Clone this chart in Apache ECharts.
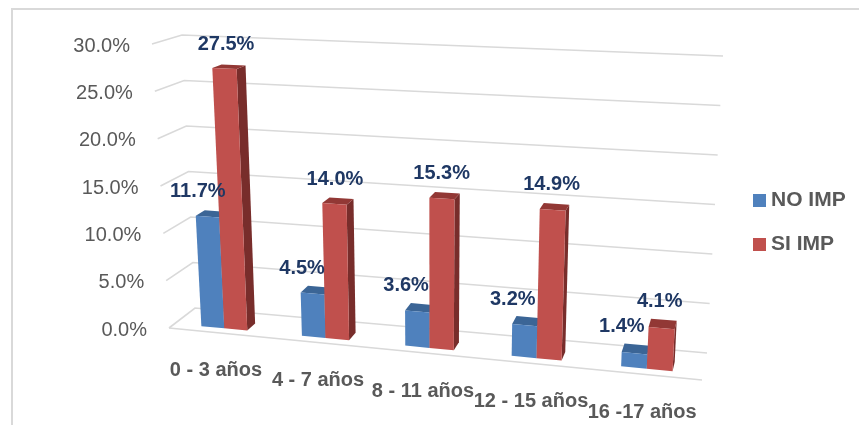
<!DOCTYPE html>
<html>
<head>
<meta charset="utf-8">
<script src="https://cdn.jsdelivr.net/npm/echarts@6/dist/echarts.min.js"></script>
<style>
html,body{margin:0;padding:0;background:#fff;}
#chart{width:859px;height:425px;}
</style>
</head>
<body>
<div id="chart"></div>
<script>
// ---- data ----
const categories = ['0 - 3 años', '4 - 7 años', '8 - 11 años', '12 - 15 años', '16 -17 años'];
const noImp = [11.7, 4.5, 3.6, 3.2, 1.4];
const siImp = [27.5, 14.0, 15.3, 14.9, 4.1];
const yTicks = [0, 5, 10, 15, 20, 25, 30];
const tickLabels = ['0.0%', '5.0%', '10.0%', '15.0%', '20.0%', '25.0%', '30.0%'];
const seriesNames = ['NO IMP', 'SI IMP'];

// ---- 3D frame (layout of the perspective box) ----
const FRAME = {
  F: { L0: [169, 328], LT: [152, 44], R0: [702, 380], RT: [719, 68] },
  B: { L0: [195, 308], LT: [182, 35], R0: [707, 353], RT: [723, 56] }
};
const PERSP = 1.074;
const Z0 = 0.22, Z1 = 0.56;
const FONT = '"Liberation Sans", Arial, sans-serif';

function lerp(a, b, t) { return a + (b - a) * t; }
function plane(pl, s, v) {
  const L = [lerp(pl.L0[0], pl.LT[0], v), lerp(pl.L0[1], pl.LT[1], v)];
  const R = [lerp(pl.R0[0], pl.RT[0], v), lerp(pl.R0[1], pl.RT[1], v)];
  return [lerp(L[0], R[0], s), lerp(L[1], R[1], s)];
}
function proj(u, v, z) {
  const s = u / (u + PERSP * (1 - u));
  const f = plane(FRAME.F, s, v), b = plane(FRAME.B, s, v);
  return [lerp(f[0], b[0], z), lerp(f[1], b[1], z)];
}
function toUV(rect, pt) {
  return [(pt[0] - rect.x) / rect.width, (rect.y + rect.height - pt[1]) / rect.height];
}

const chart = echarts.init(document.getElementById('chart'), null, { renderer: 'canvas' });

function wallItem(params, api) {
  const rect = params.coordSys;
  const idx = params.dataIndex;
  const v = toUV(rect, api.coord([0, api.value(1)]))[1];
  const children = [];
  const lineStyle = { stroke: '#D9D9D9', lineWidth: 1.6, fill: null };
  children.push({
    type: 'polyline',
    shape: { points: [proj(0, v, 0), proj(0, v, 1), proj(1, v, 1)] },
    style: lineStyle
  });
  if (idx === 0) {
    children.push({
      type: 'polyline',
      shape: { points: [proj(0, 0, 0), proj(1, 0, 0)] },
      style: lineStyle
    });
  }
  const p = proj(0, v, 0);
  children.push({
    type: 'text',
    x: p[0] - 22, y: p[1] + 2,
    style: { text: tickLabels[idx], fill: '#595959', font: '20px ' + FONT, align: 'right', verticalAlign: 'middle' }
  });
  return { type: 'group', children };
}

function catItem(params, api) {
  const rect = params.coordSys;
  const uv = toUV(rect, api.coord([api.value(0), 0]));
  const p = proj(uv[0], 0, 0);
  return {
    type: 'text',
    x: p[0] - 3, y: p[1] + 38,
    style: { text: categories[params.dataIndex], fill: '#595959', font: 'bold 20px ' + FONT, align: 'center', verticalAlign: 'middle' }
  };
}

function barItemFactory(which, cols) {
  return function (params, api) {
    const rect = params.coordSys;
    const i = api.value(0), val = api.value(1);
    const uv = toUV(rect, api.coord([i, val]));
    const band = api.size([1, 0])[0] / rect.width;
    const w = band * 0.23;
    const uc = uv[0], v = uv[1];
    const u0 = which === 0 ? uc - w : uc;
    const u1 = which === 0 ? uc : uc + w;
    const side = [proj(u1, 0, Z0), proj(u1, 0, Z1), proj(u1, v, Z1), proj(u1, v, Z0)];
    const top = [proj(u0, v, Z0), proj(u1, v, Z0), proj(u1, v, Z1), proj(u0, v, Z1)];
    const front = [proj(u0, 0, Z0), proj(u1, 0, Z0), proj(u1, v, Z0), proj(u0, v, Z0)];
    const lp = proj((u0 + u1) / 2, v, (Z0 + Z1) / 2);
    const dx = which === 0 ? -14 : -3;
    return {
      type: 'group',
      children: [
        { type: 'polygon', shape: { points: side }, style: { fill: cols.side } },
        { type: 'polygon', shape: { points: top }, style: { fill: cols.top } },
        { type: 'polygon', shape: { points: front }, style: { fill: cols.front } },
        {
          type: 'text', z2: 100,
          x: lp[0] + dx, y: lp[1] - 22,
          style: { text: val.toFixed(1) + '%', fill: '#1F3864', font: 'bold 20px ' + FONT, align: 'center', verticalAlign: 'middle' }
        }
      ]
    };
  };
}

const blueCols = { front: '#4F81BD', top: '#3B6596', side: '#385D8A' };
const redCols = { front: '#C0504D', top: '#923835', side: '#782D2B' };

const option = {
  backgroundColor: '#ffffff',
  animation: false,
  grid: { left: 100, right: 100, top: 50, bottom: 50 },
  xAxis: { type: 'category', data: categories, show: false },
  yAxis: { type: 'value', min: 0, max: 30, interval: 5, show: false },
  legend: {
    data: seriesNames,
    orient: 'vertical',
    left: 748, top: 185,
    itemWidth: 13, itemHeight: 13, itemGap: 23,
    icon: 'rect',
    textStyle: { color: '#595959', fontWeight: 'bold', fontSize: 21, fontFamily: FONT }
  },
  graphic: [{
    type: 'rect', x: 12, y: 9, z: -10,
    shape: { x: 0, y: 0, width: 900, height: 500 },
    style: { fill: null, stroke: '#D9D9D9', lineWidth: 2 }
  }],
  series: [
    {
      name: 'walls', type: 'custom', z: 1, silent: true,
      data: yTicks.map(t => [0, t]),
      encode: { x: 0, y: 1 },
      renderItem: wallItem
    },
    {
      name: 'categories', type: 'custom', z: 1, silent: true,
      data: categories.map((c, i) => [i, 0]),
      encode: { x: 0, y: 1 },
      renderItem: catItem
    },
    {
      name: seriesNames[0], type: 'custom', z: 2,
      itemStyle: { color: blueCols.front },
      data: noImp.map((v, i) => [i, v]),
      encode: { x: 0, y: 1 },
      renderItem: barItemFactory(0, blueCols)
    },
    {
      name: seriesNames[1], type: 'custom', z: 2,
      itemStyle: { color: redCols.front },
      data: siImp.map((v, i) => [i, v]),
      encode: { x: 0, y: 1 },
      renderItem: barItemFactory(1, redCols)
    }
  ]
};
chart.setOption(option);
</script>
</body>
</html>
